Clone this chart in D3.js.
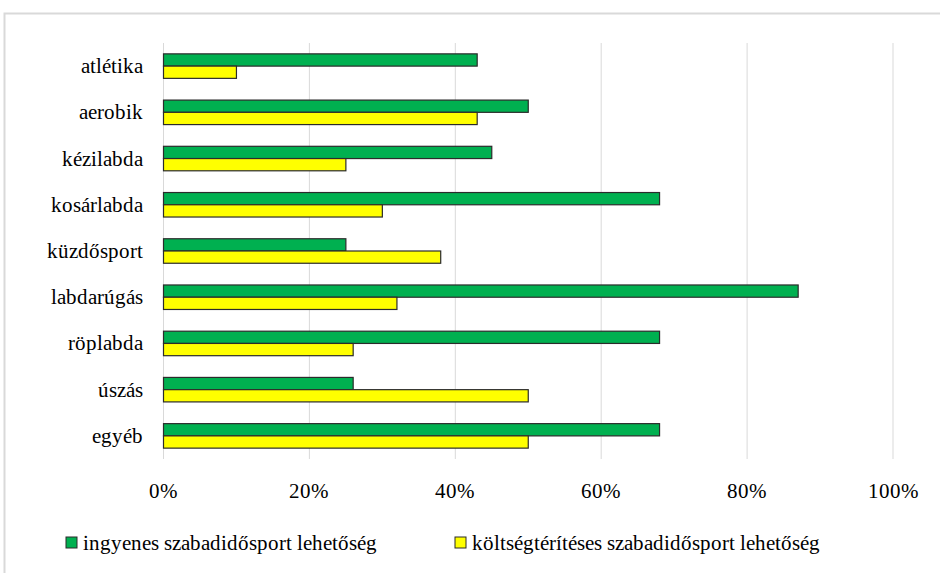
<!DOCTYPE html>
<html>
<head>
<meta charset="utf-8">
<script src="https://cdn.jsdelivr.net/npm/d3@7"></script>
<style>
  @font-face {
    font-family: 'ChartSerif';
    src: local('Liberation Serif'), local('LiberationSerif'), local('LiberationSerif-Regular'),
         local('Times New Roman'), local('TimesNewRomanPSMT'), local('Tinos'), local('Tinos-Regular'),
         local('DejaVu Serif'), local('DejaVuSerif');
  }
  body { margin: 0; background: #fff; }
  svg text { font-family: 'ChartSerif', "Times New Roman", Tinos, serif; }
</style>
</head>
<body>
<script>
const categories = ['atlétika', 'aerobik', 'kézilabda', 'kosárlabda', 'küzdősport', 'labdarúgás', 'röplabda', 'úszás', 'egyéb'];
const freeValues = [43, 50, 45, 68, 25, 87, 68, 26, 68];   // ingyenes
const paidValues = [10, 43, 25, 30, 38, 32, 26, 50, 50];   // költségtérítéses
const tickValues = [0, 20, 40, 60, 80, 100];
const seriesNames = ['ingyenes szabadidősport lehetőség', 'költségtérítéses szabadidősport lehetőség'];
const seriesColors = ['#00b050', '#ffff00'];

const width = 940, height = 573;

const svg = d3.select('body').append('svg')
    .attr('width', width)
    .attr('height', height);

// outer frame
svg.append('rect')
    .attr('x', 4.5).attr('y', 13.5)
    .attr('width', 960).attr('height', 600)
    .attr('fill', '#fff')
    .attr('stroke', '#d9d9d9')
    .attr('stroke-width', 2);

const x = d3.scaleLinear().domain([0, 100]).range([163.5, 893]);
const y = d3.scaleBand().domain(categories).range([43, 459])
    .paddingInner(0.47).paddingOuter(0.235);

// gridlines
svg.selectAll('line.grid')
  .data(tickValues)
  .join('line')
    .attr('class', 'grid')
    .attr('x1', d => x(d)).attr('x2', d => x(d))
    .attr('y1', 43).attr('y2', 459)
    .attr('stroke', '#d9d9d9')
    .attr('stroke-width', 1);

// x tick labels
svg.selectAll('text.tick')
  .data(tickValues)
  .join('text')
    .attr('class', 'tick')
    .attr('x', d => x(d))
    .attr('y', 498)
    .attr('text-anchor', 'middle')
    .attr('font-size', 21)
    .text(d => d + '%');

// category labels
svg.selectAll('text.cat')
  .data(categories)
  .join('text')
    .attr('class', 'cat')
    .attr('x', 143)
    .attr('y', d => y(d) + y.bandwidth() / 2 + 7)
    .attr('text-anchor', 'end')
    .attr('font-size', 21)
    .text(d => d);

const half = y.bandwidth() / 2;
const series = [freeValues, paidValues];

series.forEach((vals, si) => {
  svg.selectAll('rect.s' + si)
    .data(categories)
    .join('rect')
      .attr('class', 's' + si)
      .attr('x', x(0))
      .attr('y', d => y(d) + si * half)
      .attr('width', (d, i) => x(vals[i]) - x(0))
      .attr('height', half)
      .attr('fill', seriesColors[si])
      .attr('stroke', '#2b2b2b')
      .attr('stroke-width', 1.2);
});

// legend
const legendX = [66, 455];
seriesNames.forEach((name, i) => {
  svg.append('rect')
      .attr('x', legendX[i]).attr('y', 537)
      .attr('width', 11).attr('height', 11)
      .attr('fill', seriesColors[i])
      .attr('stroke', '#2b2b2b')
      .attr('stroke-width', 1);
  svg.append('text')
      .attr('x', legendX[i] + 17)
      .attr('y', 550)
      .attr('font-size', 21)
      .text(name);
});
</script>
</body>
</html>
